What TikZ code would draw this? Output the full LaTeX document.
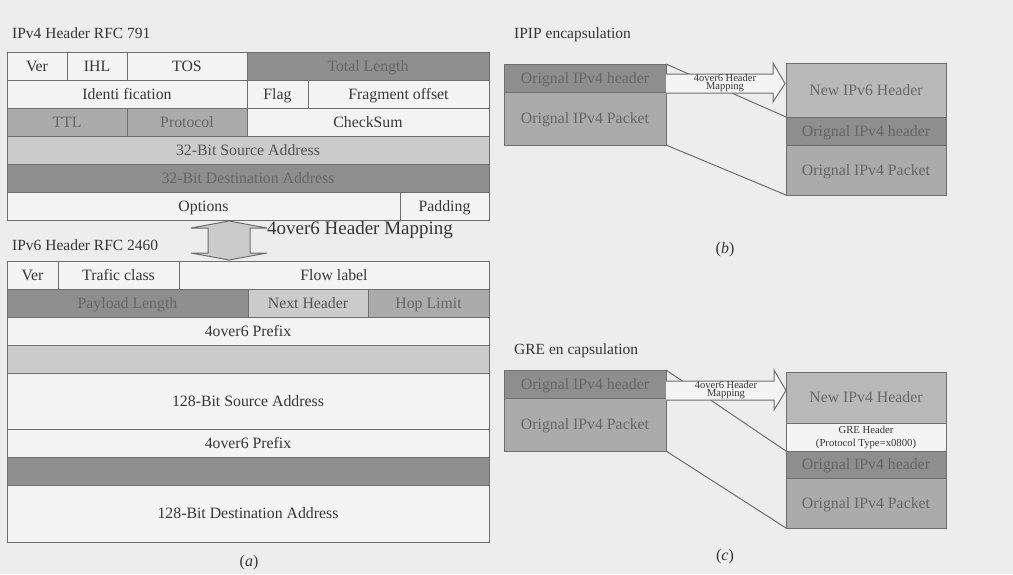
\documentclass[tikz,border=0pt]{standalone}
\usepackage{fontspec}
\setmainfont{Liberation Serif}
\usetikzlibrary{positioning}

\definecolor{bggray}{HTML}{EDEDED}
\definecolor{cellwhite}{HTML}{F4F4F4}
\definecolor{darkfill}{HTML}{8E8E8E}
\definecolor{midfill}{HTML}{ABABAB}
\definecolor{palefill}{HTML}{B9B9B9}
\definecolor{lightfill}{HTML}{CBCBCB}
\definecolor{rulegray}{HTML}{6E6E6E}
\definecolor{inkgray}{HTML}{363636}
\definecolor{dimink}{HTML}{666666}

\begin{document}
\begin{tikzpicture}[x=1pt,y=-1pt,node distance=0pt,
  cell/.style={rectangle,draw=rulegray,line width=1pt,fill=cellwhite,text=inkgray,
    inner sep=0pt,outer sep=0pt,anchor=north west,minimum height=28pt,
    text height=10pt,text depth=0pt,font=\fontsize{15.8}{17}\selectfont},
  dark cell/.style={cell,fill=darkfill,text=dimink},
  mid cell/.style={cell,fill=midfill,text=dimink},
  pale cell/.style={cell,fill=palefill,text=inkgray!75},
  light cell/.style={cell,fill=lightfill,text=inkgray!85},
  title/.style={anchor=west,inner sep=0pt,text=inkgray,font=\fontsize{15.5}{17}\selectfont},
  caption/.style={inner sep=0pt,text=inkgray,font=\fontsize{16}{18}\selectfont},
  link/.style={draw=rulegray,line width=1pt},
  map arrow/.style={draw=rulegray,line width=1pt,fill=cellwhite,line join=miter},
  map text/.style={inner sep=0pt,align=center,text=inkgray,font=\fontsize{10.5}{8.5}\selectfont}]

  \useasboundingbox (0,0) rectangle (1013,574);
  \fill[bggray] (0,0) rectangle (1013,574);

  % (a) IPv4 header
  \node[title] (v4title) at (12,33) {IPv4 Header RFC 791};
  \node[cell,minimum width=60pt] (v4ver) at (7,52) {Ver};
  \node[cell,minimum width=60pt] (v4ihl) [right=of v4ver] {IHL};
  \node[cell,minimum width=120pt] (v4tos) [right=of v4ihl] {TOS};
  \node[dark cell,minimum width=242pt] (v4tlen) [right=of v4tos] {Total Length};
  \node[cell,minimum width=240pt] (v4id) [below right=0pt and 0pt of v4ver.south west] {Identi fication};
  \node[cell,minimum width=61pt] (v4flag) [right=of v4id] {Flag};
  \node[cell,minimum width=181pt] (v4frag) [right=of v4flag] {Fragment offset};
  \node[mid cell,minimum width=120pt] (v4ttl) [below right=0pt and 0pt of v4id.south west] {TTL};
  \node[mid cell,minimum width=120pt] (v4proto) [right=of v4ttl] {Protocol};
  \node[cell,minimum width=242pt] (v4csum) [right=of v4proto] {CheckSum};
  \node[light cell,minimum width=482pt] (v4src) [below right=0pt and 0pt of v4ttl.south west] {32-Bit Source Address};
  \node[dark cell,minimum width=482pt] (v4dst) [below=of v4src] {32-Bit Destination Address};
  \node[cell,minimum width=393pt] (v4opt) [below right=0pt and 0pt of v4dst.south west] {Options};
  \node[cell,minimum width=89pt] (v4pad) [right=of v4opt] {Padding};

  % mapping between the two headers
  \filldraw[fill=lightfill,draw=rulegray,line width=1pt,line join=miter]
    (229,221) -- (267,228) -- (250,228) -- (250,253) -- (267,253) -- (229,260)
    -- (191,253) -- (208,253) -- (208,228) -- (191,228) -- cycle;
  \node[anchor=west,inner sep=0pt,text=inkgray,font=\fontsize{19}{21}\selectfont]
    (maplabel) at (267,230) {4over6 Header Mapping};

  % (a) IPv6 header
  \node[title] (v6title) at (12,245) {IPv6 Header RFC 2460};
  \node[cell,minimum width=51pt] (v6ver) at (7,261) {Ver};
  \node[cell,minimum width=121pt] (v6tc) [right=of v6ver] {Trafic class};
  \node[cell,minimum width=310pt] (v6flow) [right=of v6tc] {Flow label};
  \node[dark cell,minimum width=241pt] (v6plen) [below right=0pt and 0pt of v6ver.south west] {Payload Length};
  \node[light cell,minimum width=120pt] (v6nh) [right=of v6plen] {Next Header};
  \node[mid cell,minimum width=121pt] (v6hop) [right=of v6nh] {Hop Limit};
  \node[cell,minimum width=482pt] (v6pfx) [below right=0pt and 0pt of v6plen.south west] {4over6 Prefix};
  \node[light cell,minimum width=482pt] (v6gap) [below=of v6pfx] {};
  \node[cell,minimum width=482pt,minimum height=56pt] (v6src) [below=of v6gap] {128-Bit Source Address};
  \node[cell,minimum width=482pt] (v6pfxb) [below=of v6src] {4over6 Prefix};
  \node[dark cell,minimum width=482pt] (v6gapb) [below=of v6pfxb] {};
  \node[cell,minimum width=482pt,minimum height=57pt] (v6dst) [below=of v6gapb] {128-Bit Destination Address};
  \node[caption] (capa) at (249,563) {(\textit{a})};

  % (b) IPIP
  \node[title] (iptitle) at (514,35) {IPIP encapsulation};
  \node[dark cell,minimum width=162pt] (bhdr) at (504,64) {Orignal IPv4 header};
  \node[mid cell,minimum width=162pt,minimum height=53pt] (bpkt) [below=of bhdr] {Orignal IPv4 Packet};
  \node[pale cell,minimum width=160pt,minimum height=54pt] (bnew) at (786,63) {New IPv6 Header};
  \node[dark cell,minimum width=160pt] (bhdr2) [below=of bnew] {Orignal IPv4 header};
  \node[mid cell,minimum width=160pt,minimum height=50pt] (bpkt2) [below=of bhdr2] {Orignal IPv4 Packet};
  \draw[link] (bhdr.north east) -- (bnew.south west);
  \draw[link] (bpkt.south east) -- (bpkt2.south west);
  \filldraw[map arrow] (666,74) -- (773,74) -- (773,63) -- (785,83.5) -- (773,102) -- (773,93) -- (666,93);
  \node[map text] (bmap) at (725,83) {4over6 Header\\Mapping};
  \node[caption] (capb) at (725,250) {(\textit{b})};

  % (c) GRE
  \node[title] (gretitle) at (514,351) {GRE en capsulation};
  \node[dark cell,minimum width=162pt] (chdr) at (504,370) {Orignal IPv4 header};
  \node[mid cell,minimum width=162pt,minimum height=53pt] (cpkt) [below=of chdr] {Orignal IPv4 Packet};
  \node[pale cell,minimum width=160pt,minimum height=51pt] (cnew) at (786,372) {New IPv4 Header};
  \node[cell,minimum width=160pt,align=center,text height={},text depth={},
    font=\fontsize{10.7}{13}\selectfont] (cgre) [below=of cnew]
    {GRE Header\\(Protocol Type=x0800)};
  \node[dark cell,minimum width=160pt,minimum height=27pt] (chdr2) [below=of cgre] {Orignal IPv4 header};
  \node[mid cell,minimum width=160pt,minimum height=50pt] (cpkt2) [below=of chdr2] {Orignal IPv4 Packet};
  \draw[link] (chdr.north east) -- (cgre.south west);
  \draw[link] (cpkt.south east) -- (cpkt2.south west);
  \filldraw[map arrow] (666,381) -- (774,381) -- (774,370) -- (786,390.5) -- (774,410) -- (774,400) -- (666,400);
  \node[map text] (cmap) at (726,390) {4over6 Header\\Mapping};
  \node[caption] (capc) at (725,557) {(\textit{c})};
\end{tikzpicture}
\end{document}
